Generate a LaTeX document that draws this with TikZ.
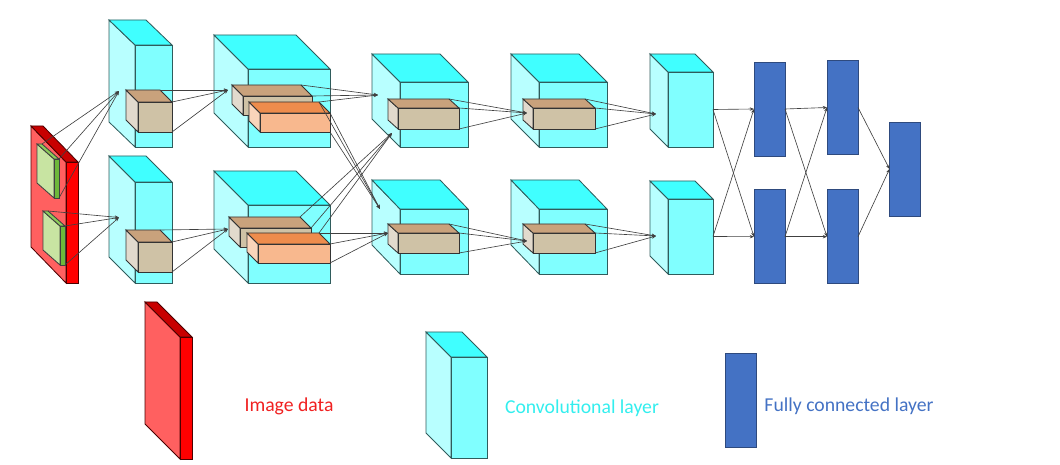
\documentclass[tikz,border=0pt]{standalone}
\usepackage{fontspec}
\setmainfont{Carlito}
\usepackage{xcolor}
\usepackage{tikz}
\usetikzlibrary{arrows.meta, calc, positioning}

% colores
\definecolor{cianTop}{HTML}{40FFFF}
\definecolor{cianFrente}{HTML}{80FFFF}
\definecolor{cianLado}{HTML}{B8FFFF}
\definecolor{bordeCian}{HTML}{2F5C5C}
\definecolor{tanFrente}{HTML}{CFC2A6}
\definecolor{tanTop}{HTML}{C9A27C}
\definecolor{tanLado}{HTML}{E2DACD}
\definecolor{naranjaFrente}{HTML}{F8B88E}
\definecolor{naranjaTop}{HTML}{EE8C4C}
\definecolor{naranjaLado}{HTML}{FAD4BA}
\definecolor{rojoFrente}{HTML}{FF0000}
\definecolor{rojoLado}{HTML}{FF6060}
\definecolor{rojoTop}{HTML}{C80000}
\definecolor{verdeLado}{HTML}{C8E4A2}
\definecolor{verdeFrente}{HTML}{6DB83A}
\definecolor{verdeTop}{HTML}{8CCB5A}
\definecolor{azulFC}{HTML}{4472C4}
\definecolor{bordeFC}{HTML}{2E4A7E}
\definecolor{textoCian}{HTML}{33EEEE}
\definecolor{textoRojo}{HTML}{F02020}

\tikzset{
  conv left/.style={fill=cianLado, draw=bordeCian, line width=0.6pt},
  conv top/.style={fill=cianTop, draw=bordeCian, line width=0.6pt},
  conv front/.style={fill=cianFrente, draw=bordeCian, line width=0.6pt},
  tan left/.style={fill=tanLado, draw=black!80, line width=0.6pt},
  tan top/.style={fill=tanTop, draw=black!80, line width=0.6pt},
  tan front/.style={fill=tanFrente, draw=black!80, line width=0.6pt},
  naranja left/.style={fill=naranjaLado, draw=black!80, line width=0.6pt},
  naranja top/.style={fill=naranjaTop, draw=black!80, line width=0.6pt},
  naranja front/.style={fill=naranjaFrente, draw=black!80, line width=0.6pt},
  rojo left/.style={fill=rojoLado, draw=black!70!red, line width=0.6pt},
  rojo top/.style={fill=rojoTop, draw=black!70!red, line width=0.6pt},
  rojo front/.style={fill=rojoFrente, draw=black!70!red, line width=0.6pt},
  verde left/.style={fill=verdeLado, draw=black!75, line width=0.6pt},
  verde top/.style={fill=verdeTop, draw=black!75, line width=0.6pt},
  verde front/.style={fill=verdeFrente, draw=black!75, line width=0.6pt},
  conn/.style={draw=black!75, line width=0.45pt, -{Stealth[length=3pt,width=2.4pt]}},
  fc/.style={draw=bordeFC, fill=azulFC, line width=0.6pt, minimum width=0.775cm,
    minimum height=2.35cm, inner sep=0pt, outer sep=0pt},
  leyenda/.style={font=\fontsize{14}{17}\selectfont}
}

% caja: nombre, cara frontal (x1,y1)-(x2,y2), profundidad (dx,dy), estilo
\newcommand{\Caja}[8]{%
  \coordinate (#1-a) at (#2,#3);
  \coordinate (#1-b) at (#4,#3);
  \coordinate (#1-c) at (#4,#5);
  \coordinate (#1-d) at (#2,#5);
  \coordinate (#1-e) at ($(#1-a)+(#6,#7)$);
  \coordinate (#1-f) at ($(#1-b)+(#6,#7)$);
  \coordinate (#1-g) at ($(#1-d)+(#6,#7)$);
  \coordinate (#1-m) at ($(#1-b)!.5!(#1-c)$);
  \draw[#8 left] (#1-e) -- (#1-a) -- (#1-d) -- (#1-g) -- cycle;
  \draw[#8 top] (#1-e) -- (#1-f) -- (#1-b) -- (#1-a) -- cycle;
  \draw[#8 front] (#1-a) rectangle (#1-c);
}

\begin{document}
\begin{tikzpicture}[x=0.025cm, y=-0.025cm]
  \useasboundingbox (0,0) rectangle (1060,465);

  % Imagen de entrada
  \Caja{img}{66}{162}{78}{283}{-35}{-36}{rojo}
  \Caja{g1}{54}{159}{59}{198}{-17}{-15}{verde}
  \Caja{g2}{60}{226}{65}{265}{-17}{-15}{verde}

  % Capa 1
  \Caja{c1a}{135}{45}{172}{147}{-26}{-25}{conv}
  \Caja{k1a}{138}{102}{172}{132}{-12}{-12}{tan}
  \Caja{c1b}{135}{182}{172}{283}{-26}{-26}{conv}
  \Caja{k1b}{138}{242}{172}{272}{-12}{-12}{tan}

  % Capa 2
  \Caja{c2a}{248}{69}{330}{147}{-34}{-34}{conv}
  \Caja{k2a}{243}{96}{312}{115}{-11}{-11}{tan}
  \Caja{o2a}{260}{113}{330}{132}{-11}{-11}{naranja}
  \Caja{c2b}{248}{205}{330}{283}{-34}{-34}{conv}
  \Caja{k2b}{240}{228}{311}{247}{-11}{-11}{tan}
  \Caja{o2b}{258}{244}{330}{263}{-11}{-11}{naranja}

  % Capa 3
  \Caja{c3a}{400}{82}{468}{147}{-28}{-28}{conv}
  \Caja{k3a}{398}{108}{459}{129}{-10}{-9}{tan}
  \Caja{c3b}{400}{209}{468}{274}{-28}{-29}{conv}
  \Caja{k3b}{398}{233}{459}{253}{-10}{-9}{tan}

  % Capa 4
  \Caja{c4a}{539}{82}{607}{147}{-28}{-28}{conv}
  \Caja{k4a}{533}{108}{595}{129}{-10}{-9}{tan}
  \Caja{c4b}{539}{209}{607}{274}{-28}{-29}{conv}
  \Caja{k4b}{533}{233}{595}{253}{-10}{-9}{tan}

  % Capa 5
  \Caja{c5a}{668}{72}{713}{147}{-18}{-18}{conv}
  \Caja{c5b}{668}{199}{713}{274}{-18}{-18}{conv}

  % Capas completamente conectadas
  \node[fc] (fc1a) at (769.5,109) {};
  \node[fc] (fc1b) at (769.5,236.7) {};
  \node[fc] (fc2a) at (842.5,107.5) {};
  \node[fc] (fc2b) at (842.5,236.7) {};
  \node[fc] (fc3) at (905,169) {};

  % Puntos de llegada
  \coordinate (p1a) at (119,91);
  \coordinate (p1b) at (119,217.5);
  \coordinate (p2a) at (228,90);
  \coordinate (p2b) at (228,229);
  \coordinate (p3a) at (378,95);
  \coordinate (p3ax) at (392,133);
  \coordinate (p3b) at (388,233);
  \coordinate (p3bx) at (380,209);
  \coordinate (p4a) at (527,113);
  \coordinate (p4b) at (527,241);
  \coordinate (p5a) at (656,114);
  \coordinate (p5b) at (656,236);

  % Conexiones entre capas
  \foreach \s/\t in {g1/p1a, g2/p1b, k1a/p2a, k1b/p2b, o2a/p3bx, o2b/p3b,
                     k3a/p4a, k3b/p4b, k4a/p5a, k4b/p5b}
    \foreach \v in {f,b,c}
      \draw[conn] (\s-\v) -- (\t);
  \foreach \v in {k2a-f, k2a-b, o2a-f}
    \draw[conn] (\v) -- (p3a);
  \foreach \v in {k2b-f, k2b-b, o2b-f}
    \draw[conn] (\v) -- (p3ax);

  % Conexiones densas
  \foreach \s in {c5a-m, c5b-m} {
    \draw[conn] (\s) -- (fc1a.west);
    \draw[conn] (\s) -- (fc1b.west);
  }
  \foreach \s in {fc1a, fc1b} {
    \draw[conn] (\s.east) -- (fc2a.west);
    \draw[conn] (\s.east) -- (fc2b.west);
  }
  \draw[conn] (fc2a.east) -- (fc3.west);
  \draw[conn] (fc2b.east) -- (fc3.west);

  % Leyenda
  \Caja{leyImg}{180}{337}{192}{459}{-35}{-35}{rojo}
  \node[leyenda, text=textoRojo] (txtImg) at (289,406) {Image data};
  \Caja{leyConv}{451}{357}{487}{458}{-25}{-25}{conv}
  \node[leyenda, text=textoCian] (txtConv) at (582,408) {Convolutional layer};
  \node[fc] (leyFC) at (741,400) {};
  \node[leyenda, text=azulFC] (txtFC) at (849,406) {Fully connected layer};
\end{tikzpicture}
\end{document}
